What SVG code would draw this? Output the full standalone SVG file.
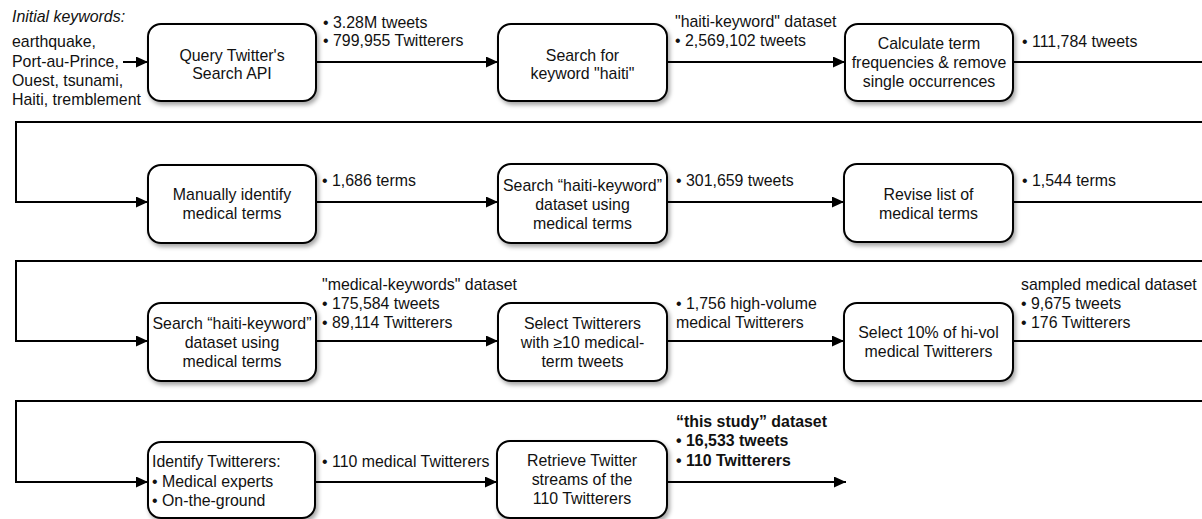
<svg xmlns="http://www.w3.org/2000/svg" width="1202" height="519" viewBox="0 0 1202 519">
<style>
text{font-family:"Liberation Sans",Arial,sans-serif;font-size:15.9px;fill:#111}
.c{text-anchor:middle}
.b{font-weight:bold}
.box{fill:#fff;stroke:#000;stroke-width:2;filter:url(#sh)}
.con{fill:none;stroke:#000;stroke-width:2;marker-end:url(#ah)}
</style>
<defs>
<filter id="sh" x="-10%" y="-10%" width="125%" height="130%">
<feDropShadow dx="2" dy="3" stdDeviation="2" flood-color="#000" flood-opacity="0.35"/>
</filter>
<marker id="ah" markerUnits="userSpaceOnUse" markerWidth="12" markerHeight="11" refX="12" refY="5.5" orient="auto">
<path d="M0,0 L12,5.5 L0,11 z" fill="#000"/>
</marker>
</defs>
<g id="connectors">
<path class="con" d="M123,62 H148"/>
<path class="con" d="M316,62 H498"/>
<path class="con" d="M667,62 H845"/>
<path class="con" d="M1013,62 H1214 V122 H16 V202 H148"/>
<path class="con" d="M316,202 H498"/>
<path class="con" d="M667,202 H844"/>
<path class="con" d="M1013,202 H1214 V261 H16 V341 H148"/>
<path class="con" d="M316,341 H498"/>
<path class="con" d="M667,341 H844"/>
<path class="con" d="M1013,341 H1214 V401 H16 V482 H148"/>
<path class="con" d="M315,482 H497"/>
<path class="con" d="M667,482 H846"/>
</g>
<g id="initial-keywords">
<text x="12" y="22" font-style="italic">Initial keywords:</text>
<text x="12" y="47">earthquake,</text>
<text x="12" y="67">Port-au-Prince,</text>
<text x="12" y="86">Ouest, tsunami,</text>
<text x="12" y="105">Haiti, tremblement</text>
</g>
<g id="n1"><rect class="box" x="148" y="24" width="168" height="77" rx="13"/>
<text class="c" x="232" y="61">Query Twitter's</text><text class="c" x="232" y="79">Search API</text></g>
<g id="n2"><rect class="box" x="498" y="24" width="169" height="77" rx="13"/>
<text class="c" x="582.5" y="61">Search for</text><text class="c" x="582.5" y="79">keyword "haiti"</text></g>
<g id="n3"><rect class="box" x="845" y="24" width="168" height="77" rx="13"/>
<text class="c" x="929" y="49">Calculate term</text><text class="c" x="929" y="68">frequencies &amp; remove</text><text class="c" x="929" y="87">single occurrences</text></g>
<g id="l1"><text x="323" y="28">• 3.28M tweets</text><text x="323" y="46">• 799,955 Twitterers</text></g>
<g id="l2"><text x="675" y="27">"haiti-keyword" dataset</text><text x="675" y="46">• 2,569,102 tweets</text></g>
<g id="l3"><text x="1022" y="47">• 111,784 tweets</text></g>

<g id="n4"><rect class="box" x="148" y="165" width="168" height="78" rx="13"/>
<text class="c" x="232" y="200">Manually identify</text><text class="c" x="232" y="219">medical terms</text></g>
<g id="n5"><rect class="box" x="498" y="164" width="169" height="79" rx="13"/>
<text class="c" x="582.5" y="191">Search “haiti-keyword”</text><text class="c" x="582.5" y="210">dataset using</text><text class="c" x="582.5" y="229">medical terms</text></g>
<g id="n6"><rect class="box" x="844" y="164" width="169" height="78" rx="13"/>
<text class="c" x="928.5" y="200">Revise list of</text><text class="c" x="928.5" y="219">medical terms</text></g>
<g id="l4"><text x="322" y="186">• 1,686 terms</text></g>
<g id="l5"><text x="676" y="186">• 301,659 tweets</text></g>
<g id="l6"><text x="1022" y="186">• 1,544 terms</text></g>

<g id="n7"><rect class="box" x="148" y="303" width="168" height="78" rx="13"/>
<text class="c" x="232" y="329">Search “haiti-keyword”</text><text class="c" x="232" y="348">dataset using</text><text class="c" x="232" y="367">medical terms</text></g>
<g id="n8"><rect class="box" x="498" y="303" width="169" height="78" rx="13"/>
<text class="c" x="582.5" y="329">Select Twitterers</text><text class="c" x="582.5" y="348">with ≥10 medical-</text><text class="c" x="582.5" y="367">term tweets</text></g>
<g id="n9"><rect class="box" x="844" y="303" width="169" height="78" rx="13"/>
<text class="c" x="928.5" y="338">Select 10% of hi-vol</text><text class="c" x="928.5" y="357">medical Twitterers</text></g>
<g id="l7"><text x="322" y="290">"medical-keywords" dataset</text><text x="322" y="309">• 175,584 tweets</text><text x="322" y="328">• 89,114 Twitterers</text></g>
<g id="l8"><text x="676" y="309">• 1,756 high-volume</text><text x="676" y="328">medical Twitterers</text></g>
<g id="l9"><text x="1021" y="290">sampled medical dataset</text><text x="1021" y="309">• 9,675 tweets</text><text x="1021" y="328">• 176 Twitterers</text></g>

<g id="n10"><rect class="box" x="148" y="442" width="167" height="76" rx="13"/>
<text x="152" y="467">Identify Twitterers:</text><text x="152" y="487">• Medical experts</text><text x="152" y="506">• On-the-ground</text></g>
<g id="n11"><rect class="box" x="497" y="441" width="170" height="77" rx="13"/>
<text class="c" x="582" y="466">Retrieve Twitter</text><text class="c" x="582" y="485">streams of the</text><text class="c" x="582" y="504">110 Twitterers</text></g>
<g id="l10"><text x="322" y="467">• 110 medical Twitterers</text></g>
<g id="l11"><text class="b" x="676" y="427">“this study” dataset</text><text class="b" x="676" y="446">• 16,533 tweets</text><text class="b" x="676" y="466">• 110 Twitterers</text></g>
</svg>
